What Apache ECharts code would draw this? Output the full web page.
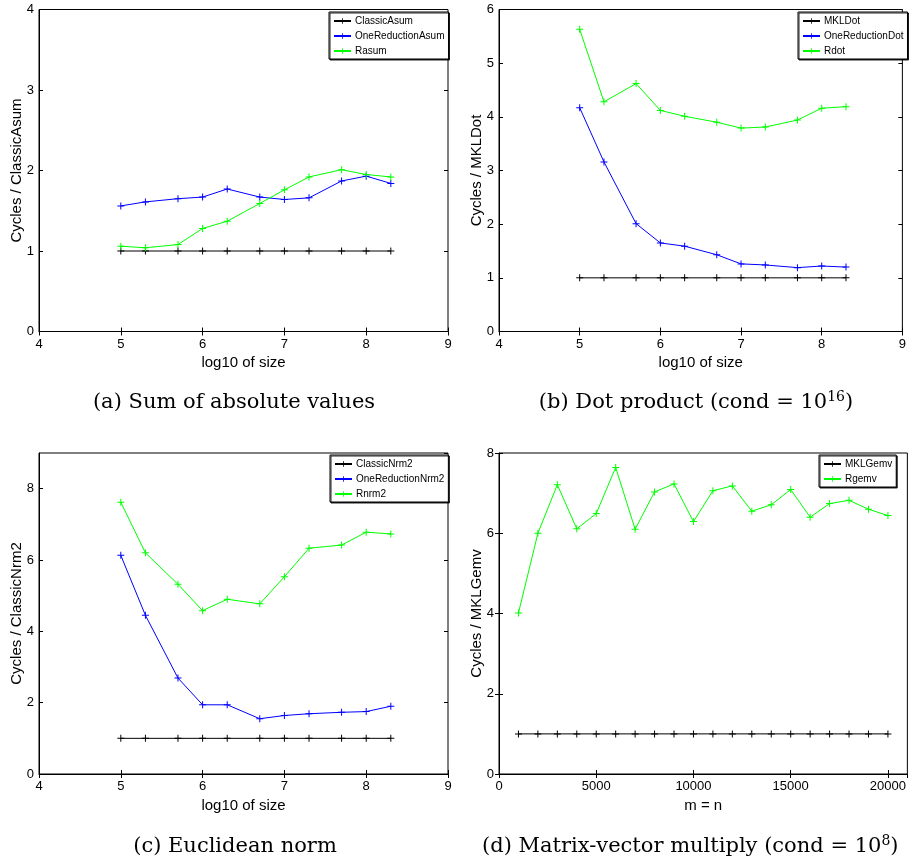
<!DOCTYPE html>
<html>
<head>
<meta charset="utf-8">
<script src="https://cdn.jsdelivr.net/npm/echarts@6/dist/echarts.min.js"></script>
<style>html,body{margin:0;padding:0;background:#fff}#c{width:909px;height:865px}</style>
</head>
<body>
<div id="c"></div>
<script>
// ---- data ----
const logSize = [5, 5.301, 5.699, 6, 6.301, 6.699, 7, 7.301, 7.699, 8, 8.301];

const asumClassic = [1, 1, 1, 1, 1, 1, 1, 1, 1, 1, 1];
const asumOneRed  = [1.56, 1.61, 1.65, 1.67, 1.77, 1.67, 1.64, 1.66, 1.87, 1.93, 1.84];
const asumR       = [1.06, 1.04, 1.08, 1.28, 1.37, 1.59, 1.76, 1.92, 2.01, 1.95, 1.92];

const dotMKL      = [1, 1, 1, 1, 1, 1, 1, 1, 1, 1, 1];
const dotOneRed   = [4.17, 3.16, 2.01, 1.65, 1.59, 1.43, 1.26, 1.24, 1.19, 1.22, 1.20];
const dotR        = [5.63, 4.28, 4.62, 4.12, 4.01, 3.90, 3.79, 3.81, 3.94, 4.16, 4.19];

const nrm2Classic = [1, 1, 1, 1, 1, 1, 1, 1, 1, 1, 1];
const nrm2OneRed  = [6.13, 4.45, 2.69, 1.94, 1.94, 1.55, 1.64, 1.69, 1.73, 1.75, 1.90];
const nrm2R       = [7.62, 6.20, 5.32, 4.58, 4.90, 4.77, 5.53, 6.33, 6.42, 6.78, 6.73];

const gemvSize = [1000, 2000, 3000, 4000, 5000, 6000, 7000, 8000, 9000, 10000,
                  11000, 12000, 13000, 14000, 15000, 16000, 17000, 18000, 19000, 20000];
const gemvMKL  = [1, 1, 1, 1, 1, 1, 1, 1, 1, 1, 1, 1, 1, 1, 1, 1, 1, 1, 1, 1];
const gemvR    = [4.01, 6.00, 7.21, 6.11, 6.49, 7.64, 6.10, 7.03, 7.23, 6.29,
                  7.06, 7.18, 6.55, 6.71, 7.09, 6.40, 6.74, 6.82, 6.60, 6.44];

const yNames = ['Cycles / ClassicAsum', 'Cycles / MKLDot', 'Cycles / ClassicNrm2', 'Cycles / MKLGemv'];
const xNames = ['log10 of size', 'log10 of size', 'log10 of size', 'm = n'];
const captions = ['(a) Sum of absolute values', '(b) Dot product (cond = 10{s|16})',
                  '(c) Euclidean norm', '(d) Matrix-vector multiply (cond = 10{s|8})'];

// ---- styling / layout ----
const BLACK = '#000000', BLUE = '#0000ff', GREEN = '#00ff00';
const PLUS = 'path://M3,0h1v3h3v1h-3v3h-1v-3h-3v-1h3z';
const SANS = 'Liberation Sans, Arial, sans-serif';

const grids = [
  {left: 39, top: 9.5, width: 409, height: 322},
  {left: 499, top: 9.5, width: 409, height: 322},
  {left: 39, top: 453, width: 409, height: 321},
  {left: 499, top: 453, width: 409, height: 321}
];
const xRanges = [[4, 9, 1], [4, 9, 1], [4, 9, 1], [0, 21000, 5000]];
const yRanges = [[0, 4, 1], [0, 6, 1], [0, 9, 2], [0, 8, 2]];

const xAxis = [], yAxis = [];
grids.forEach((g, i) => {
  const [x0, x1, xi] = xRanges[i];
  const [y0, y1, yi] = yRanges[i];
  xAxis.push({
    type: 'value', gridIndex: i, position: 'bottom', min: x0, max: x1, interval: xi,
    name: xNames[i], nameLocation: 'middle', nameGap: 24, nameMoveOverlap: false,
    nameTextStyle: {fontFamily: SANS, fontSize: 15, color: BLACK},
    axisLine: {show: true, onZero: false, lineStyle: {color: BLACK, width: 1}},
    axisTick: {show: true, inside: true, length: 4, lineStyle: {color: BLACK}},
    axisLabel: {fontFamily: SANS, fontSize: 13, color: BLACK, margin: 6, showMaxLabel: i !== 3,
                formatter: v => String(v)},
    splitLine: {show: false}
  });
  xAxis.push({
    type: 'value', gridIndex: i, position: 'top', min: x0, max: x1, interval: xi,
    axisLine: {show: false}, axisLabel: {show: false}, splitLine: {show: false},
    axisTick: {show: true, inside: true, length: 4, lineStyle: {color: BLACK}}
  });
  yAxis.push({
    type: 'value', gridIndex: i, position: 'left', min: y0, max: y1, interval: yi,
    name: yNames[i], nameLocation: 'middle', nameGap: 15, nameMoveOverlap: false,
    nameTextStyle: {fontFamily: SANS, fontSize: 15, color: BLACK},
    axisLine: {show: true, onZero: false, lineStyle: {color: BLACK, width: 1}},
    axisTick: {show: true, inside: true, length: 4, lineStyle: {color: BLACK}},
    axisLabel: {fontFamily: SANS, fontSize: 13, color: BLACK, margin: 5, showMaxLabel: i !== 2},
    splitLine: {show: false}
  });
  yAxis.push({
    type: 'value', gridIndex: i, position: 'right', min: y0, max: y1, interval: yi,
    axisLine: {show: false}, axisLabel: {show: false}, splitLine: {show: false},
    axisTick: {show: true, inside: true, length: 4, lineStyle: {color: BLACK}}
  });
});

function mk(name, gi, xs, ys, color) {
  return {
    name: name, type: 'line', xAxisIndex: gi * 2, yAxisIndex: gi * 2,
    data: xs.map((x, k) => [x, ys[k]]),
    symbol: PLUS, symbolSize: 7, showAllSymbol: true,
    lineStyle: {color: color, width: 1},
    itemStyle: {color: color},
    emphasis: {disabled: true},
    animation: false
  };
}

const series = [
  mk('ClassicAsum', 0, logSize, asumClassic, BLACK),
  mk('OneReductionAsum', 0, logSize, asumOneRed, BLUE),
  mk('Rasum', 0, logSize, asumR, GREEN),
  mk('MKLDot', 1, logSize, dotMKL, BLACK),
  mk('OneReductionDot', 1, logSize, dotOneRed, BLUE),
  mk('Rdot', 1, logSize, dotR, GREEN),
  mk('ClassicNrm2', 2, logSize, nrm2Classic, BLACK),
  mk('OneReductionNrm2', 2, logSize, nrm2OneRed, BLUE),
  mk('Rnrm2', 2, logSize, nrm2R, GREEN),
  mk('MKLGemv', 3, gemvSize, gemvMKL, BLACK),
  mk('Rgemv', 3, gemvSize, gemvR, GREEN)
];

function legend(names, left, top) {
  return {
    data: names, left: left, top: top, orient: 'vertical',
    itemWidth: 17, itemHeight: 7, itemGap: 5, padding: [4, 4, 3, 4],
    borderColor: BLACK, borderWidth: 1, backgroundColor: '#fff',
    shadowColor: 'rgba(0,0,0,0.85)', shadowOffsetX: 1, shadowOffsetY: 1, shadowBlur: 0,
    textStyle: {fontFamily: SANS, fontSize: 10, color: BLACK, padding: [0, 0, 0, -1]},
    selectedMode: false
  };
}

const capPos = [[234, 403, 'center'], [696, 403, 'center'], [235, 847, 'center'], [482, 847, 'left']];
const graphic = captions.map((t, i) => ({
  type: 'text', x: capPos[i][0], y: capPos[i][1],
  style: {
    text: t, textAlign: capPos[i][2], textVerticalAlign: 'middle',
    fontFamily: 'DejaVu Serif', fontSize: 21, fill: BLACK,
    rich: {s: {fontFamily: 'DejaVu Serif', fontSize: 14, fill: BLACK, padding: [0, 0, 11, 0]}}
  }
}));

const chart = echarts.init(document.getElementById('c'), null, {renderer: 'canvas'});
chart.setOption({
  animation: false,
  backgroundColor: '#fff',
  grid: grids.map(g => Object.assign({show: true, borderColor: BLACK, borderWidth: 1, backgroundColor: 'transparent'}, g)),
  xAxis: xAxis,
  yAxis: yAxis,
  legend: [
    legend(['ClassicAsum', 'OneReductionAsum', 'Rasum'], 329, 12),
    legend(['MKLDot', 'OneReductionDot', 'Rdot'], 798, 12),
    legend(['ClassicNrm2', 'OneReductionNrm2', 'Rnrm2'], 330, 455),
    legend(['MKLGemv', 'Rgemv'], 819, 455)
  ],
  series: series,
  graphic: graphic
});
</script>
</body>
</html>
